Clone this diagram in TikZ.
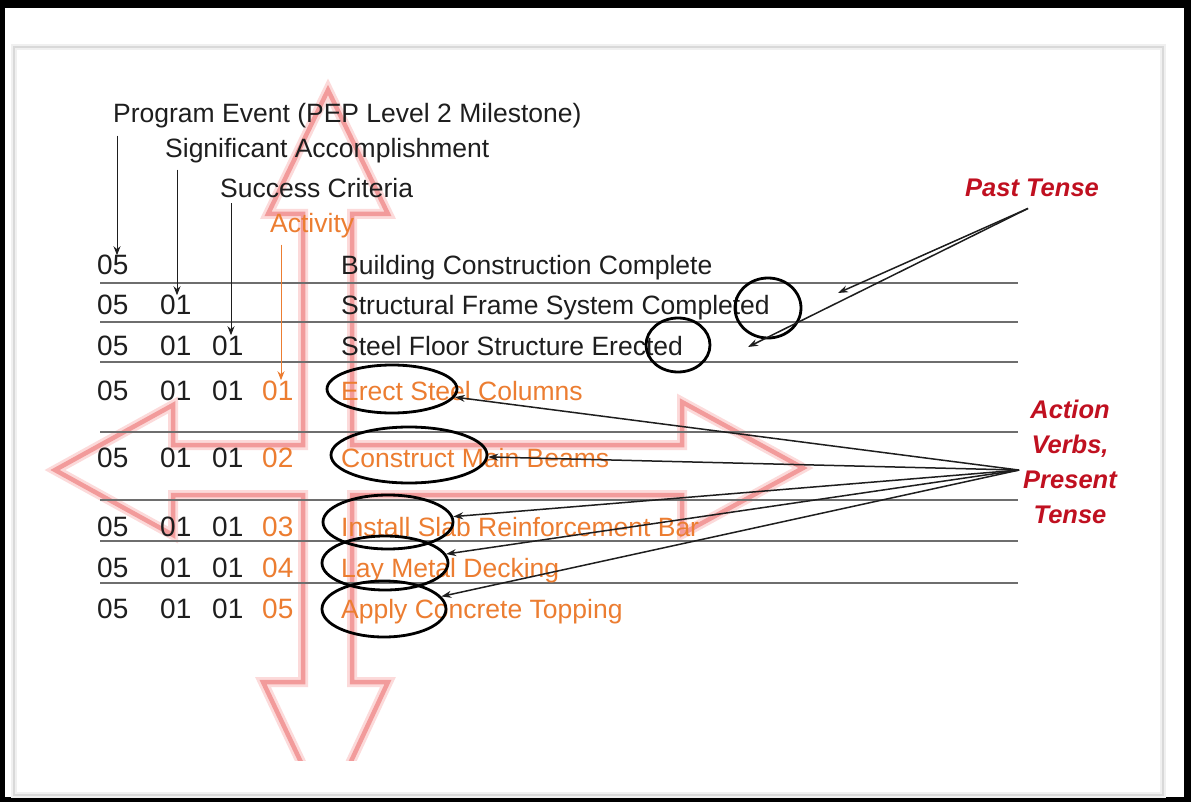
\documentclass[tikz,border=0pt]{standalone}
\usepackage{fontspec}
\setmainfont{Liberation Sans}
\usetikzlibrary{arrows.meta,shapes.geometric,calc}
\definecolor{orng}{RGB}{236,125,49}
\definecolor{pastred}{RGB}{192,16,32}
\definecolor{crossc}{RGB}{242,155,155}
\definecolor{crossh}{RGB}{252,218,218}
\definecolor{rowline}{RGB}{110,110,110}
\definecolor{ink}{RGB}{30,30,30}
\begin{document}
\begin{tikzpicture}[x=1pt,y=-1pt,
 txt/.style={anchor=base west,inner sep=0pt,text=ink,font=\fontsize{26.5}{30}\selectfont},
 num/.style={anchor=base west,inner sep=0pt,text=ink,font=\fontsize{28}{30}\selectfont},
 acttxt/.style={txt,text=orng},
 onum/.style={num,text=orng},
 rline/.style={draw=rowline,line width=1.3pt},
 ring/.style={draw=black,line width=2.8pt,ellipse,inner sep=0pt},
 harr/.style={draw=ink,line width=1pt,-{Stealth[length=9pt,width=7pt]}},
 arr/.style={draw=ink,line width=1.5pt,-{Stealth[length=10pt,width=7pt]}},
 oarr/.style={draw=orng,line width=1pt,-{Stealth[length=9pt,width=7pt]}},
 lab/.style={text=pastred,font=\bfseries\itshape\fontsize{25.5}{35}\selectfont,inner sep=0pt},
 crosspath/.style={insert path={(328,90) -- (388,214) -- (352,214) -- (352,445) -- (682,445) -- (682,402) -- (803,468) -- (682,534) -- (682,495) -- (352,495) -- (352,682) -- (388,682) -- (326,815) -- (263,682) -- (303,682) -- (303,495) -- (173,495) -- (173,535) -- (55,470) -- (173,405) -- (173,445) -- (303,445) -- (303,214) -- (268,214) -- cycle}}
]
\useasboundingbox (0,0) rectangle (1191,802);
% frame and panel
\fill[black] (0,0) rectangle (1191,802);
\fill[white] (5,8) rectangle (1184,797);
\draw[gray!12,line width=6pt] (14,47) rectangle (1163,795);
\draw[gray!30,line width=1.6pt] (14,47) rectangle (1163,795);
% big cross arrow
\begin{scope}
\clip (0,0) rectangle (1191,760);
\draw[crossh,line width=10pt,line join=miter,crosspath];
\draw[crossc,line width=4.5pt,line join=miter,crosspath];
\end{scope}
% row rules
\foreach \yy in {283,322,362,432,500,541,583}
  \draw[rline] (100,\yy) -- (1018,\yy);
% headings
\node[txt] (pe) at (113,123) {Program Event (PEP Level 2 Milestone)};
\node[txt] (sa) at (165,158) {Significant Accomplishment};
\node[txt] (sc) at (220,198) {Success Criteria};
\node[acttxt] (ac) at (270,233) {Activity};
% row 1
\node[num] (r1a) at (97,275) {05};
\node[txt] (t1) at (341,275) {Building Construction Complete};
% row 2
\node[num] (r2a) at (97,315) {05};
\node[num] (r2b) at (160,315) {01};
\node[txt] (t2) at (341,315) {Structural Frame System Completed};
% row 3
\node[num] (r3a) at (97,355) {05};
\node[num] (r3b) at (160,355) {01};
\node[num] (r3c) at (212,355) {01};
\node[txt] (t3) at (341,355) {Steel Floor Structure Erected};
% row 4
\node[num] (r4a) at (97,400) {05};
\node[num] (r4b) at (160,400) {01};
\node[num] (r4c) at (212,400) {01};
\node[onum] (r4d) at (262,400) {01};
\node[acttxt] (t4) at (341,400) {Erect Steel Columns};
% row 5
\node[num] (r5a) at (97,467) {05};
\node[num] (r5b) at (160,467) {01};
\node[num] (r5c) at (212,467) {01};
\node[onum] (r5d) at (262,467) {02};
\node[acttxt] (t5) at (341,467) {Construct Main Beams};
% row 6
\node[num] (r6a) at (97,536) {05};
\node[num] (r6b) at (160,536) {01};
\node[num] (r6c) at (212,536) {01};
\node[onum] (r6d) at (262,536) {03};
\node[acttxt] (t6) at (341,536) {Install Slab Reinforcement Bar};
% row 7
\node[num] (r7a) at (97,577) {05};
\node[num] (r7b) at (160,577) {01};
\node[num] (r7c) at (212,577) {01};
\node[onum] (r7d) at (262,577) {04};
\node[acttxt] (t7) at (341,577) {Lay Metal Decking};
% row 8
\node[num] (r8a) at (97,618) {05};
\node[num] (r8b) at (160,618) {01};
\node[num] (r8c) at (212,618) {01};
\node[onum] (r8d) at (262,618) {05};
\node[acttxt] (t8) at (341,618) {Apply Concrete Topping};
% ellipses
\node[ring,minimum width=66pt,minimum height=60pt] (c1) at (768,308) {};
\node[ring,minimum width=64pt,minimum height=54pt] (c2) at (678,345) {};
\node[ring,minimum width=130pt,minimum height=48pt] (e1) at (392,389) {};
\node[ring,minimum width=156pt,minimum height=56pt] (e2) at (409,455) {};
\node[ring,minimum width=130pt,minimum height=54pt] (e3) at (388,522) {};
\node[ring,minimum width=126pt,minimum height=54pt] (e4) at (385,563) {};
\node[ring,minimum width=124pt,minimum height=56pt] (e5) at (384,609) {};
% labels on the right
\node[lab,anchor=base] (pastT) at (1032,197) {Past Tense};
\node[lab,align=center,anchor=north] (act) at (1070,400) {Action\\Verbs,\\Present\\Tense};
% heading arrows
\coordinate (h1) at ([shift={(4,7)}]pe.south west);
\coordinate (h2) at ([shift={(12,6)}]sa.south west);
\coordinate (h3) at ([shift={(11,5)}]sc.south west);
\coordinate (h4) at ([shift={(11,6)}]ac.south west);
\draw[harr] (h1) -- (h1 |- r1a.north);
\draw[harr] (h2) -- (h2 |- r2b.north);
\draw[harr] (h3) -- (h3 |- r3c.north);
\draw[oarr] (h4) -- (h4 |- r4d.north);
% past tense arrows
\coordinate (ps) at ([shift={(-4,11)}]pastT.south);
\coordinate (pa1) at (838,293);
\coordinate (pa2) at (748,347);
\draw[arr] (ps) -- (pa1);
\draw[arr] (ps) -- (pa2);
% action verb arrows
\coordinate (as) at ([shift={(-4,8)}]act.west);
\foreach \e in {e1,e2,e3,e4,e5}
  \draw[arr] (as) -- (\e);
\end{tikzpicture}
\end{document}
